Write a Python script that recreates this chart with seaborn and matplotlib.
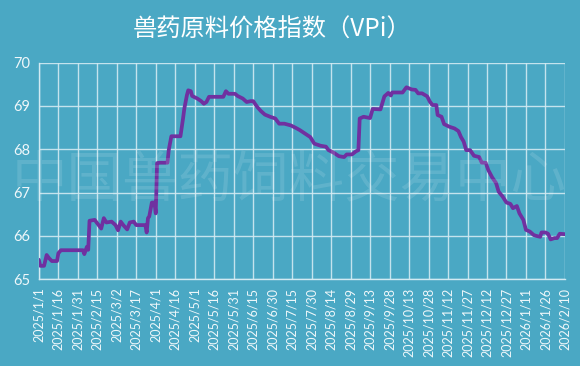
from __future__ import annotations

import matplotlib

matplotlib.use("Agg")

import matplotlib.pyplot as plt
import pandas as pd
import seaborn as sns

START_DATE = "2025-01-01"
END_DATE = "2026-02-10"

# days after 2025/1/1
day_offsets = [
    0, 1, 4, 6, 8, 10, 14, 15, 17, 34, 35, 37, 38, 39, 43, 46, 48, 50, 52, 56,
    59, 61, 63, 65, 68, 70, 73, 75, 82, 83, 84, 85, 87, 89, 90, 91, 93, 99, 100,
    102, 109, 111, 112, 114, 115, 117, 118, 122, 125, 127, 129, 131, 142, 144,
    146, 151, 153, 157, 160, 163, 165, 168, 171, 174, 178, 182, 185, 189, 194,
    198, 201, 205, 209, 212, 217, 221, 223, 227, 231, 235, 237, 241, 244, 246,
    247, 250, 255, 257, 263, 266, 269, 271, 272, 280, 283, 287, 290, 292, 295,
    299, 301, 303, 306, 307, 310, 312, 316, 320, 323, 325, 327, 329, 332, 335,
    339, 341, 344, 346, 349, 352, 354, 357, 360, 363, 365, 368, 370, 373, 375,
    378, 381, 383, 386, 387, 390, 392, 394, 397, 399, 401, 405,
]
vpi_values = [
    65.45, 65.31, 65.31, 65.56, 65.48, 65.42, 65.42, 65.60, 65.67, 65.67, 65.58,
    65.75, 65.68, 66.35, 66.37, 66.25, 66.17, 66.41, 66.31, 66.33, 66.25, 66.13,
    66.33, 66.25, 66.15, 66.31, 66.33, 66.25, 66.25, 66.08, 66.41, 66.45, 66.77,
    66.77, 66.52, 67.68, 67.69, 67.69, 67.98, 68.30, 68.30, 68.71, 68.94, 69.25,
    69.36, 69.34, 69.23, 69.17, 69.11, 69.05, 69.09, 69.21, 69.21, 69.34, 69.28,
    69.28, 69.23, 69.17, 69.09, 69.11, 69.11, 68.98, 68.88, 68.80, 68.75, 68.71,
    68.59, 68.59, 68.55, 68.49, 68.44, 68.36, 68.28, 68.13, 68.08, 68.06, 67.98,
    67.92, 67.84, 67.82, 67.88, 67.88, 67.95, 67.98, 68.71, 68.75, 68.72, 68.93,
    68.92, 69.22, 69.30, 69.24, 69.31, 69.31, 69.43, 69.38, 69.37, 69.29, 69.29,
    69.22, 69.10, 69.02, 69.02, 68.79, 68.75, 68.58, 68.52, 68.48, 68.42, 68.28,
    68.18, 67.98, 67.98, 67.85, 67.82, 67.69, 67.69, 67.52, 67.35, 67.22, 67.02,
    66.91, 66.77, 66.74, 66.64, 66.69, 66.52, 66.37, 66.14, 66.10, 66.02, 66.00,
    65.98, 66.08, 66.08, 66.05, 65.92, 65.95, 65.95, 66.05, 66.04,
]
y_ticks = [65, 66, 67, 68, 69, 70]

TITLE = "兽药原料价格指数（VPi）"
WATERMARK = "中国兽药饲料交易中心"

BG_COLOR = "#4aa8c4"
LINE_COLOR = "#7030a0"
GRID_COLOR = "#d2eaf2"
TEXT_COLOR = "#eef7fa"


def build_frame() -> pd.DataFrame:
    start = pd.Timestamp(START_DATE)
    df = pd.DataFrame({"day": day_offsets, "vpi": vpi_values})
    df["date"] = start + pd.to_timedelta(df["day"], unit="D")
    return df


def plot_index(df: pd.DataFrame, output_path: str) -> None:
    sns.set_theme(style="white")
    plt.rcParams["font.family"] = ["Lato", "Noto Sans CJK SC", "DejaVu Sans"]

    fig = plt.figure(figsize=(5.8, 3.66), dpi=100, facecolor=BG_COLOR)
    ax = fig.add_axes([0.067, 0.237, 0.907, 0.592])
    ax.set_facecolor(BG_COLOR)

    sns.lineplot(data=df, x="date", y="vpi", color=LINE_COLOR, linewidth=2.7, ax=ax, zorder=3)

    start = pd.Timestamp(START_DATE)
    end = pd.Timestamp(END_DATE)
    x_ticks = pd.date_range(start, end, freq="15D")
    ax.set_xlim(start, end)
    ax.set_ylim(y_ticks[0], y_ticks[-1])
    ax.set_xticks(x_ticks)
    ax.set_xticklabels([f"{d.year}/{d.month}/{d.day}" for d in x_ticks], rotation=90)
    ax.set_yticks(y_ticks)

    ax.grid(True, color=GRID_COLOR, linewidth=1.0, alpha=0.9)
    ax.set_axisbelow(True)
    for side in ["top", "right"]:
        ax.spines[side].set_visible(False)
    for side in ["left", "bottom"]:
        ax.spines[side].set_color(GRID_COLOR)
        ax.spines[side].set_linewidth(1.0)

    ax.tick_params(axis="x", colors=TEXT_COLOR, labelsize=9, length=3, width=1, direction="out", pad=3)
    ax.tick_params(axis="y", colors=TEXT_COLOR, labelsize=10.5, length=0, pad=6)
    ax.tick_params(axis="x", color=GRID_COLOR)
    ax.set_xlabel("")
    ax.set_ylabel("")

    fig.text(0.469, 0.918, TITLE, color="white", fontsize=17.5, ha="center", va="center",
             family=["Noto Sans CJK SC", "DejaVu Sans"])
    fig.text(0.498, 0.505, WATERMARK, color="white", alpha=0.12, fontsize=40, fontweight="light",
             ha="center", va="center", family=["Noto Sans CJK SC", "DejaVu Sans"], zorder=1)

    fig.savefig(output_path, dpi=100, facecolor=BG_COLOR)
    plt.close(fig)


def main() -> None:
    df = build_frame()
    plot_index(df, "out.png")


if __name__ == "__main__":
    main()
